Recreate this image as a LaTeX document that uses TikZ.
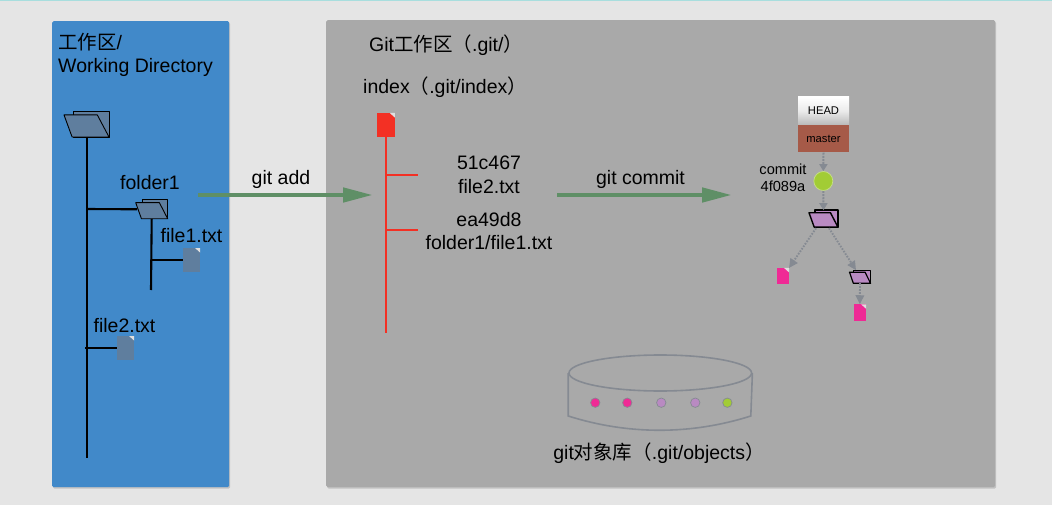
\documentclass[tikz,border=0pt]{standalone}
\usepackage{fontspec}
\setmainfont{Liberation Sans}
\newfontfamily\cjk{Noto Sans CJK SC}
\usetikzlibrary{arrows.meta,positioning,shapes.geometric,shadows}
\definecolor{gitPage}{HTML}{E5E5E5}
\definecolor{gitStrip}{HTML}{A8DEDE}
\definecolor{gitBlue}{HTML}{4189C9}
\definecolor{gitGray}{HTML}{A9A9A9}
\definecolor{gitSlate}{HTML}{5F7E9E}
\definecolor{gitRed}{HTML}{F33024}
\definecolor{gitPink}{HTML}{EF2A95}
\definecolor{gitPurple}{HTML}{B98AC2}
\definecolor{gitLime}{HTML}{A2CC35}
\definecolor{gitBrick}{HTML}{A65A48}
\definecolor{gitGreen}{HTML}{5F8F66}
\definecolor{gitEdge}{HTML}{858A92}
\tikzset{
  % Big panels
  panel/.style={rectangle,anchor=north west,inner sep=0pt,
    rounded corners=1.5pt,
    drop shadow={shadow xshift=1pt,shadow yshift=-1.5pt,opacity=0.35}},
  % Folder: width, height, colour, line width
  folderbox/.style n args={4}{rectangle,inner sep=0pt,outer sep=0pt,
    minimum width=#1pt,minimum height=#2pt,
    append after command={\pgfextra{
      \draw[fill=#3,line width=#4,line join=round]
        (\tikzlastnode.south east) rectangle ++({-.8*#1},{-#2});
      \draw[fill=#3,line width=#4,line join=round]
        (\tikzlastnode.south west) ++({.18*#1},0) -- ++({.82*#1},0)
        -- ++({-.26*#1},{-.85*#2}) -- ++({-.74*#1},0) -- cycle;
    }}},
  % File with a folded corner
  docbox/.style={rectangle,inner sep=0pt,outer sep=0pt,fill=#1,
    minimum width=17.5pt,minimum height=24pt,
    path picture={\fill[gray!25] (path picture bounding box.north east)
      -- ++(-5pt,0) -- ++(5pt,-4.5pt) -- cycle;}},
  smalldoc/.style={docbox=gitPink,minimum width=12.5pt,minimum height=16.5pt},
  % Labels
  lbl/.style={font=\fontsize{19.5}{23.5}\selectfont,align=center,inner sep=0pt},
  lblsmall/.style={font=\fontsize{14.6}{16.5}\selectfont,align=center,inner sep=0pt},
  % Dots in the object store
  objdot/.style={circle,inner sep=0pt,minimum size=9.4pt,fill=#1,
    draw=gitEdge,line width=0.7pt},
  % Arrows
  tree/.style={line width=2.1pt,color=black},
  redtree/.style={line width=2.1pt,color=gitRed},
  bigarr/.style={-{Triangle[length=30pt,width=14pt]},line width=4.6pt,color=gitGreen},
  headarr/.style={-{Triangle[length=7pt,width=8pt]},line width=2pt,
    dash pattern=on 2pt off 1.2pt,color=gitEdge},
  dotarr/.style={-{Triangle[length=9pt,width=8.5pt]},line width=1.9pt,
    dash pattern=on 1.6pt off 1.4pt,color=gitEdge},
}
\begin{document}
\begin{tikzpicture}[x=1pt,y=-1pt]
  \useasboundingbox (0,0) rectangle (1052,505);
  \fill[gitPage] (0,0) rectangle (1052,505);
  \fill[gitStrip] (0,0) rectangle (1052,1.2);

  \node[panel,fill=gitBlue,minimum width=177pt,minimum height=466pt] (workpanel) at (52,21) {};
  \node[panel,fill=gitGray,minimum width=669pt,minimum height=467pt] (gitpanel) at (326,20) {};

  % working directory
  \node[lbl,align=left,anchor=north west] (worktitle) at (58,32.5)
    {{\cjk 工作区}/\\Working Directory};
  \node[folderbox={45}{26}{gitSlate}{0.9pt}] (rootdir) at (86.5,124) {};
  \node[folderbox={32}{19}{gitSlate}{0.9pt}] (folderone) at (151.7,209.3) {};
  \node[docbox=gitSlate] (fileone) at (191.3,260) {};
  \node[docbox=gitSlate] (filetwo) at (125.3,348) {};
  \node[lbl] (folderonelbl) at (150,183) {folder1};
  \node[lbl] (fileonelbl) at (191.5,236) {file1.txt};
  \node[lbl] (filetwolbl) at (124.5,326) {file2.txt};
  \coordinate (rootend) at (87,458);
  \coordinate (foldbranch) at (87,209);
  \coordinate (twobranch) at (85,348);
  \coordinate (oneend) at (151,290);
  \coordinate (onebranch) at (151,260);
  \draw[tree] (rootdir.south) ++(0.5,0) -- (rootend);
  \draw[tree] (foldbranch) -- ([xshift=1.5pt]folderone.west);
  \draw[tree] (twobranch) -- (filetwo.west);
  \draw[tree] (folderone.south) -- (oneend);
  \draw[tree] (onebranch) -- (fileone.west);

  % index
  \node[lbl,anchor=west] (gittitle) at (369,45.5) {Git{\cjk 工作区（}.git/{\cjk ）}};
  \node[lbl,anchor=west] (indextitle) at (363,87.5) {index{\cjk （}.git/index{\cjk ）}};
  \node[docbox=gitRed] (indexfile) at (386,125) {};
  \node[lbl] (entryone) at (489,175) {51c467\\file2.txt};
  \node[lbl] (entrytwo) at (489,231) {ea49d8\\folder1/file1.txt};
  \coordinate (indexend) at (386,333);
  \coordinate (branchone) at (386,175);
  \coordinate (branchtwo) at (386,230);
  \coordinate (tipone) at (418,175);
  \coordinate (tiptwo) at (418,230);
  \draw[redtree] (indexfile.south) -- (indexend);
  \draw[redtree] (branchone) -- (tipone);
  \draw[redtree] (branchtwo) -- (tiptwo);

  % the two commands
  \coordinate (addfrom) at (198,195);
  \coordinate (addto) at (373,195);
  \coordinate (commitfrom) at (557,195);
  \coordinate (committo) at (732,195);
  \draw[bigarr] (addfrom) -- (addto);
  \draw[bigarr] (commitfrom) -- (committo);
  \node[lbl] (addlbl) at (281,179) {git add};
  \node[lbl] (commitlbl) at (640.5,179) {git commit};

  % commit tree
  \node[rectangle,minimum width=51pt,minimum height=28pt,inner sep=0pt,
    top color=white,bottom color=gray!55,middle color=white!92!black,
    font=\fontsize{11.2}{13}\selectfont] (head) at (823.5,111) {HEAD};
  \node[rectangle,minimum width=51pt,minimum height=27pt,inner sep=0pt,fill=gitBrick,
    font=\fontsize{11.2}{13}\selectfont,below=0pt of head] (master) {master};
  \node[circle,fill=gitLime,draw=gitLime!60!white,line width=0.7pt,
    minimum size=19pt,inner sep=0pt] (commit) at (823.3,181) {};
  \node[lblsmall] (commitlblb) at (783,178) {commit\\4f089a};
  \node[folderbox={29}{17}{gitPurple}{1.4pt}] (treeroot) at (823.5,218.7) {};
  \node[folderbox={21}{13}{gitPurple}{1.2pt}] (treesub) at (860,276.7) {};
  \node[smalldoc] (treefile) at (782.8,276.2) {};
  \node[smalldoc] (subfile) at (859.8,312.5) {};
  \draw[headarr] (master.south) -- (commit.north);
  \draw[headarr] (commit.south) -- (treeroot.north);
  \draw[dotarr] (treeroot.south west) ++(7,1) -- (treefile.north east);
  \draw[dotarr] (treeroot.south east) ++(-9,1) -- ([xshift=-4pt]treesub.north);
  \draw[dotarr] (treesub.south) -- (subfile.north);

  % object store
  \node[ellipse,draw=gitEdge,line width=1.6pt,minimum width=182.6pt,minimum height=36pt,
    inner sep=0pt] (storetop) at (660.3,373) {};
  \draw[gitEdge,line width=1.6pt] (storetop.west) -- ++(0,43)
    .. controls ++(60,19) and ++(-60,19) .. ++(182.6,0) -- (storetop.east);
  \node[objdot=gitPink,right=22pt of storetop.west,yshift=-29.7pt] (dotone) {};
  \node[objdot=gitPink,right=21.9pt of dotone] (dottwo) {};
  \node[objdot=gitPurple,right=23.9pt of dottwo] (dotthree) {};
  \node[objdot=gitPurple,right=23.9pt of dotthree] (dotfour) {};
  \node[objdot=gitLime,right=22pt of dotfour] (dotfive) {};
  \node[lbl] (storelbl) at (659,453) {git{\cjk 对象库（}.git/objects{\cjk ）}};
\end{tikzpicture}
\end{document}
